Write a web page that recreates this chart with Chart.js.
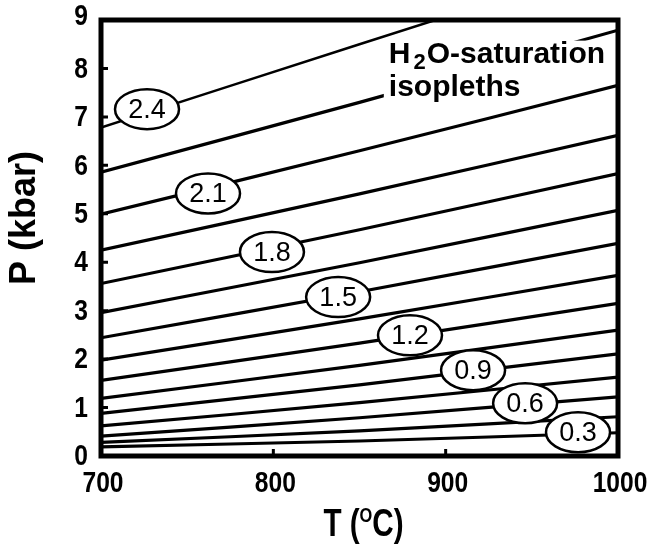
<!DOCTYPE html>
<html lang="en">

<head>
    <meta charset="UTF-8">
    <title>H2O-saturation isopleths</title>
    <script src="https://cdn.jsdelivr.net/npm/chart.js@4.4.0/dist/chart.umd.min.js"></script>
    <style>
        body { margin: 0; background: #fff; }
        canvas { display: block; }
    </style>
</head>

<body>
    <canvas id="chart" width="669" height="546"></canvas>

    <script>
        const temps = [700, 850, 1000];

        // H2O content of each isopleth, top to bottom
        const isopleths = [2.4, 2.25, 2.1, 1.95, 1.8, 1.65, 1.5, 1.35, 1.2, 1.05, 0.9, 0.75, 0.6, 0.45, 0.3];

        // pressure (kbar) of each isopleth at the temps above
        const pressures = [
            [6.78, 8.50, 10.20],
            [5.86, 7.30, 8.79],
            [4.99, 6.30, 7.65],
            [4.25, 5.41, 6.62],
            [3.56, 4.67, 5.83],
            [2.96, 3.99, 5.07],
            [2.44, 3.39, 4.39],
            [1.98, 2.83, 3.73],
            [1.56, 2.33, 3.15],
            [1.19, 1.87, 2.60],
            [0.88, 1.47, 2.11],
            [0.62, 1.10, 1.63],
            [0.41, 0.79, 1.22],
            [0.28, 0.52, 0.81],
            [0.19, 0.31, 0.48]
        ];

        // the oval labels
        const labelTexts = ["2.4", "2.1", "1.8", "1.5", "1.2", "0.9", "0.6", "0.3"];
        const labelT = [726.7, 762.1, 799.2, 837.6, 879.3, 915.9, 946.1, 976.8];
        const labelP = [7.16, 5.42, 4.21, 3.28, 2.49, 1.77, 1.09, 0.49];

        const xTicks = [700, 800, 900, 1000];
        const yTicks = [0, 1, 2, 3, 4, 5, 6, 7, 8, 9];
        const noteT = 867;
        const noteP = [8.12, 7.44];

        const sans = '"Liberation Sans", Arial, sans-serif';

        // bold text squeezed sideways, the axes use a condensed face
        function narrowText(ctx, text, px, py, size, align, squeeze) {
            ctx.font = "bold " + size + "px " + sans;
            const w = ctx.measureText(text).width * squeeze;
            let left = px;
            if (align == "center") left = px - w / 2;
            if (align == "right") left = px - w;
            ctx.save();
            ctx.translate(left, py);
            ctx.scale(squeeze, 1);
            ctx.textAlign = "left";
            ctx.fillText(text, 0, 0);
            ctx.restore();
            return w;
        }

        const overlay = {
            id: "overlay",
            afterDatasetsDraw(chart) {
                const { ctx, chartArea: a, scales: { x, y } } = chart;
                ctx.save();
                ctx.strokeStyle = "#000";
                ctx.fillStyle = "#000";

                // small inward ticks
                ctx.lineWidth = 3;
                ctx.beginPath();
                for (const v of yTicks.slice(1, -1)) {
                    const py = y.getPixelForValue(v);
                    ctx.moveTo(a.left, py);
                    ctx.lineTo(a.left + 7, py);
                }
                for (const v of xTicks.slice(1, -1)) {
                    const px = x.getPixelForValue(v);
                    ctx.moveTo(px, a.bottom);
                    ctx.lineTo(px, a.bottom - 7);
                }
                ctx.stroke();

                // frame
                ctx.lineWidth = 5;
                ctx.strokeRect(a.left, a.top, a.right - a.left, a.bottom - a.top);

                // tick labels
                ctx.textBaseline = "middle";
                for (const v of yTicks) {
                    const py = y.getPixelForValue(v) + (v == 9 ? -3 : 1);
                    narrowText(ctx, String(v), a.left - 13, py, 30, "right", 0.82);
                }
                for (const v of xTicks) {
                    narrowText(ctx, String(v), x.getPixelForValue(v) + 2, a.bottom + 28, 30, "center", 0.82);
                }

                // note in the upper right, on a white patch
                const nx = x.getPixelForValue(noteT);
                const b1 = y.getPixelForValue(noteP[0]);
                const b2 = y.getPixelForValue(noteP[1]);
                ctx.fillStyle = "#fff";
                ctx.fillRect(nx - 5, b1 - 22, a.right - 3 - (nx - 5), 28);
                ctx.fillRect(nx - 5, b1 + 4, 140, b2 - b1 + 4);
                ctx.fillStyle = "#000";
                ctx.textBaseline = "alphabetic";
                ctx.textAlign = "left";
                ctx.font = "bold 30px " + sans;
                let cx = nx;
                ctx.fillText("H", cx, b1);
                cx += ctx.measureText("H").width + 3;
                ctx.font = "bold 22px " + sans;
                ctx.fillText("2", cx, b1 + 6);
                cx += ctx.measureText("2").width + 1;
                ctx.font = "bold 30px " + sans;
                ctx.fillText("O-saturation", cx, b1);
                ctx.fillText("isopleths", nx, b2);

                // oval labels
                ctx.font = "27px " + sans;
                ctx.textAlign = "center";
                ctx.textBaseline = "middle";
                ctx.lineWidth = 2.5;
                labelTexts.forEach((t, i) => {
                    const px = x.getPixelForValue(labelT[i]);
                    const py = y.getPixelForValue(labelP[i]);
                    ctx.beginPath();
                    ctx.ellipse(px, py, 32, 20, 0, 0, Math.PI * 2);
                    ctx.fillStyle = "#fff";
                    ctx.fill();
                    ctx.stroke();
                    ctx.fillStyle = "#000";
                    ctx.fillText(t, px, py + 1);
                });

                // x title, T (°C) with a raised O
                ctx.textBaseline = "alphabetic";
                const parts = [["T (", 38, 0], ["O", 21, -14], ["C)", 38, 0]];
                let total = 0;
                for (const [s, size] of parts) {
                    ctx.font = "bold " + size + "px " + sans;
                    total += ctx.measureText(s).width * 0.78;
                }
                let tx = (a.left + a.right) / 2 + 4 - total / 2;
                for (const [s, size, dy] of parts) {
                    tx += narrowText(ctx, s, tx, 536 + dy, size, "left", 0.78);
                }

                // y title
                ctx.translate(25, 218);
                ctx.rotate(-Math.PI / 2);
                ctx.textAlign = "center";
                ctx.textBaseline = "middle";
                ctx.font = "bold 36px " + sans;
                ctx.fillText("P (kbar)", 0, 0);
                ctx.restore();
            }
        };

        const datasets = isopleths.map((v, i) => ({
            label: String(v),
            data: temps.map((t, j) => ({ x: t, y: pressures[i][j] })),
            showLine: true,
            borderColor: "#000",
            borderWidth: i == 0 ? 2.5 : 3.2,
            pointRadius: 0,
            tension: 0.3
        }));

        new Chart(document.getElementById("chart"), {
            type: "scatter",
            data: { datasets },
            options: {
                responsive: false,
                animation: false,
                layout: { padding: { top: 20, right: 51 } },
                plugins: { legend: { display: false }, tooltip: { enabled: false } },
                scales: {
                    x: {
                        type: "linear",
                        min: 700,
                        max: 1000,
                        afterBuildTicks: s => { s.ticks = xTicks.map(v => ({ value: v })); },
                        afterFit: s => { s.height = 90; },
                        grid: { display: false, drawTicks: false },
                        border: { display: false },
                        ticks: { display: false }
                    },
                    y: {
                        min: 0,
                        max: 9,
                        afterBuildTicks: s => { s.ticks = yTicks.map(v => ({ value: v })); },
                        afterFit: s => { s.width = 101; },
                        grid: { display: false, drawTicks: false },
                        border: { display: false },
                        ticks: { display: false }
                    }
                }
            },
            plugins: [overlay]
        });
    </script>
</body>

</html>
